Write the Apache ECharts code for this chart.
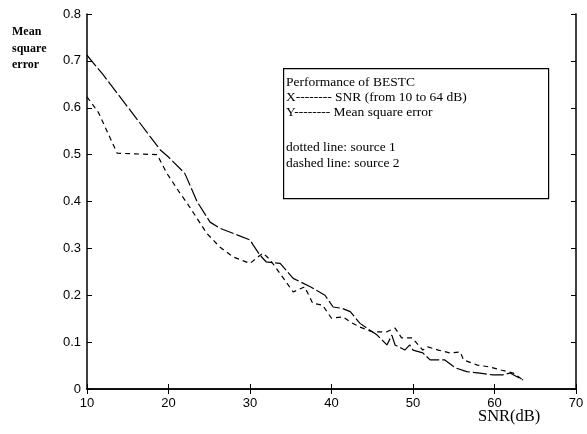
<!DOCTYPE html>
<html>
<head>
<meta charset="utf-8">
<script src="https://cdn.jsdelivr.net/npm/echarts@6/dist/echarts.min.js"></script>
<style>
  html, body { margin: 0; padding: 0; background: #fff; }
  #chart { width: 587px; height: 434px; }
</style>
</head>
<body>
<div id="chart"></div>
<script>
// source 1 (upper curve)
var snr1 = [10, 12, 19, 20, 22, 23.5, 25.1, 26.3, 30, 30.4, 31.2, 32, 33.7, 35.3, 37.4, 39.2, 40.2, 41.3,
  42.3, 43.5, 45.6, 46.8, 47.4, 47.8, 49, 49.6, 50, 51.2, 52.1, 53.9, 55.2, 56.6, 58.2, 59.8, 61, 61.9, 63.5];
var mse1 = [0.712, 0.67, 0.51, 0.495, 0.46, 0.40, 0.356, 0.343, 0.318, 0.307, 0.286, 0.271, 0.268, 0.236, 0.218, 0.2, 0.175, 0.172,
  0.165, 0.14, 0.115, 0.094, 0.115, 0.094, 0.083, 0.094, 0.083, 0.077, 0.062, 0.062, 0.045, 0.037, 0.034, 0.03, 0.03, 0.034, 0.019];
// source 2 (lower curve)
var snr2 = [10, 11.4, 13.7, 18.6, 19.8, 21.4, 22.3, 24.7, 26.3, 27.9, 30, 31, 31.6, 32.5, 33.7, 35.3, 36.7, 37.7,
  38.9, 40, 41.4, 42.3, 43.5, 45, 46.8, 47.8, 48.6, 49.9, 51.2, 51.8, 53.1, 54.5, 55.8, 56.2, 57.9, 59.4, 60.9, 62.3, 63.5];
var mse2 = [0.623, 0.59, 0.503, 0.5, 0.46, 0.418, 0.396, 0.332, 0.303, 0.282, 0.268, 0.282, 0.29, 0.275, 0.246, 0.207, 0.218, 0.183,
  0.179, 0.151, 0.154, 0.143, 0.132, 0.122, 0.122, 0.13, 0.109, 0.109, 0.083, 0.09, 0.083, 0.077, 0.079, 0.062, 0.051, 0.047, 0.04, 0.034, 0.019];

var noteLines = [
  "Performance of BESTC",
  "X-------- SNR (from 10 to 64 dB)",
  "Y-------- Mean square error",
  "",
  "dotted line: source 1",
  "dashed line: source 2"
];

function pairs(xs, ys) {
  return xs.map(function(x, i) { return [x, ys[i]]; });
}

var myChart = echarts.init(document.getElementById("chart"));

var serif = "'Liberation Serif', 'DejaVu Serif', serif";
var sans = "'Liberation Sans', Arial, sans-serif";

var tick = { show: true, inside: true, length: 5, lineStyle: { color: "#000" } };
var line = { show: true, lineStyle: { color: "#000", width: 1.5 } };

var noteTops = [75, 90, 105, 0, 140, 156];
var noteText = [];
noteLines.forEach(function(t, i) {
  if (!t) return;
  noteText.push({
    type: "text",
    left: 286,
    top: noteTops[i],
    style: { text: t, font: "13.5px " + serif, fill: "#000" }
  });
});

var option = {
  animation: false,
  backgroundColor: "#fff",
  grid: { left: 87, right: 11, top: 14, bottom: 45 },
  xAxis: [
    {
      type: "value", min: 10, max: 70, interval: 10,
      axisLine: line, axisTick: tick, splitLine: { show: false },
      axisLabel: { color: "#000", fontFamily: sans, fontSize: 13, margin: 8 }
    },
    {
      type: "value", position: "top", min: 10, max: 70, interval: 10,
      axisLine: line, axisTick: tick, splitLine: { show: false },
      axisLabel: { show: false }
    }
  ],
  yAxis: [
    {
      type: "value", min: 0, max: 0.8, interval: 0.1,
      axisLine: line, axisTick: tick, splitLine: { show: false },
      axisLabel: { color: "#000", fontFamily: sans, fontSize: 13, margin: 6 }
    },
    {
      type: "value", position: "right", min: 0, max: 0.8, interval: 0.1,
      axisLine: line, axisTick: tick, splitLine: { show: false },
      axisLabel: { show: false }
    }
  ],
  graphic: [
    {
      type: "text", left: 12, top: 24,
      style: { text: "Mean\nsquare\nerror", font: "bold 12px " + serif, fill: "#000", lineHeight: 16.5 }
    },
    {
      type: "text", left: 478, top: 408,
      style: { text: "SNR(dB)", font: "16.5px " + serif, fill: "#000" }
    },
    {
      type: "rect", left: 283, top: 68,
      shape: { width: 265, height: 130 },
      style: { fill: "#fff", stroke: "#000", lineWidth: 1.2 }
    }
  ].concat(noteText),
  series: [
    {
      name: "source 1", type: "line", data: pairs(snr1, mse1),
      showSymbol: false, z: 1,
      lineStyle: { color: "#000", width: 1.2, type: [14, 3] }
    },
    {
      name: "source 2", type: "line", data: pairs(snr2, mse2),
      showSymbol: false, z: 1,
      lineStyle: { color: "#000", width: 1.2, type: [5, 4] }
    }
  ]
};

myChart.setOption(option);
</script>
</body>
</html>
